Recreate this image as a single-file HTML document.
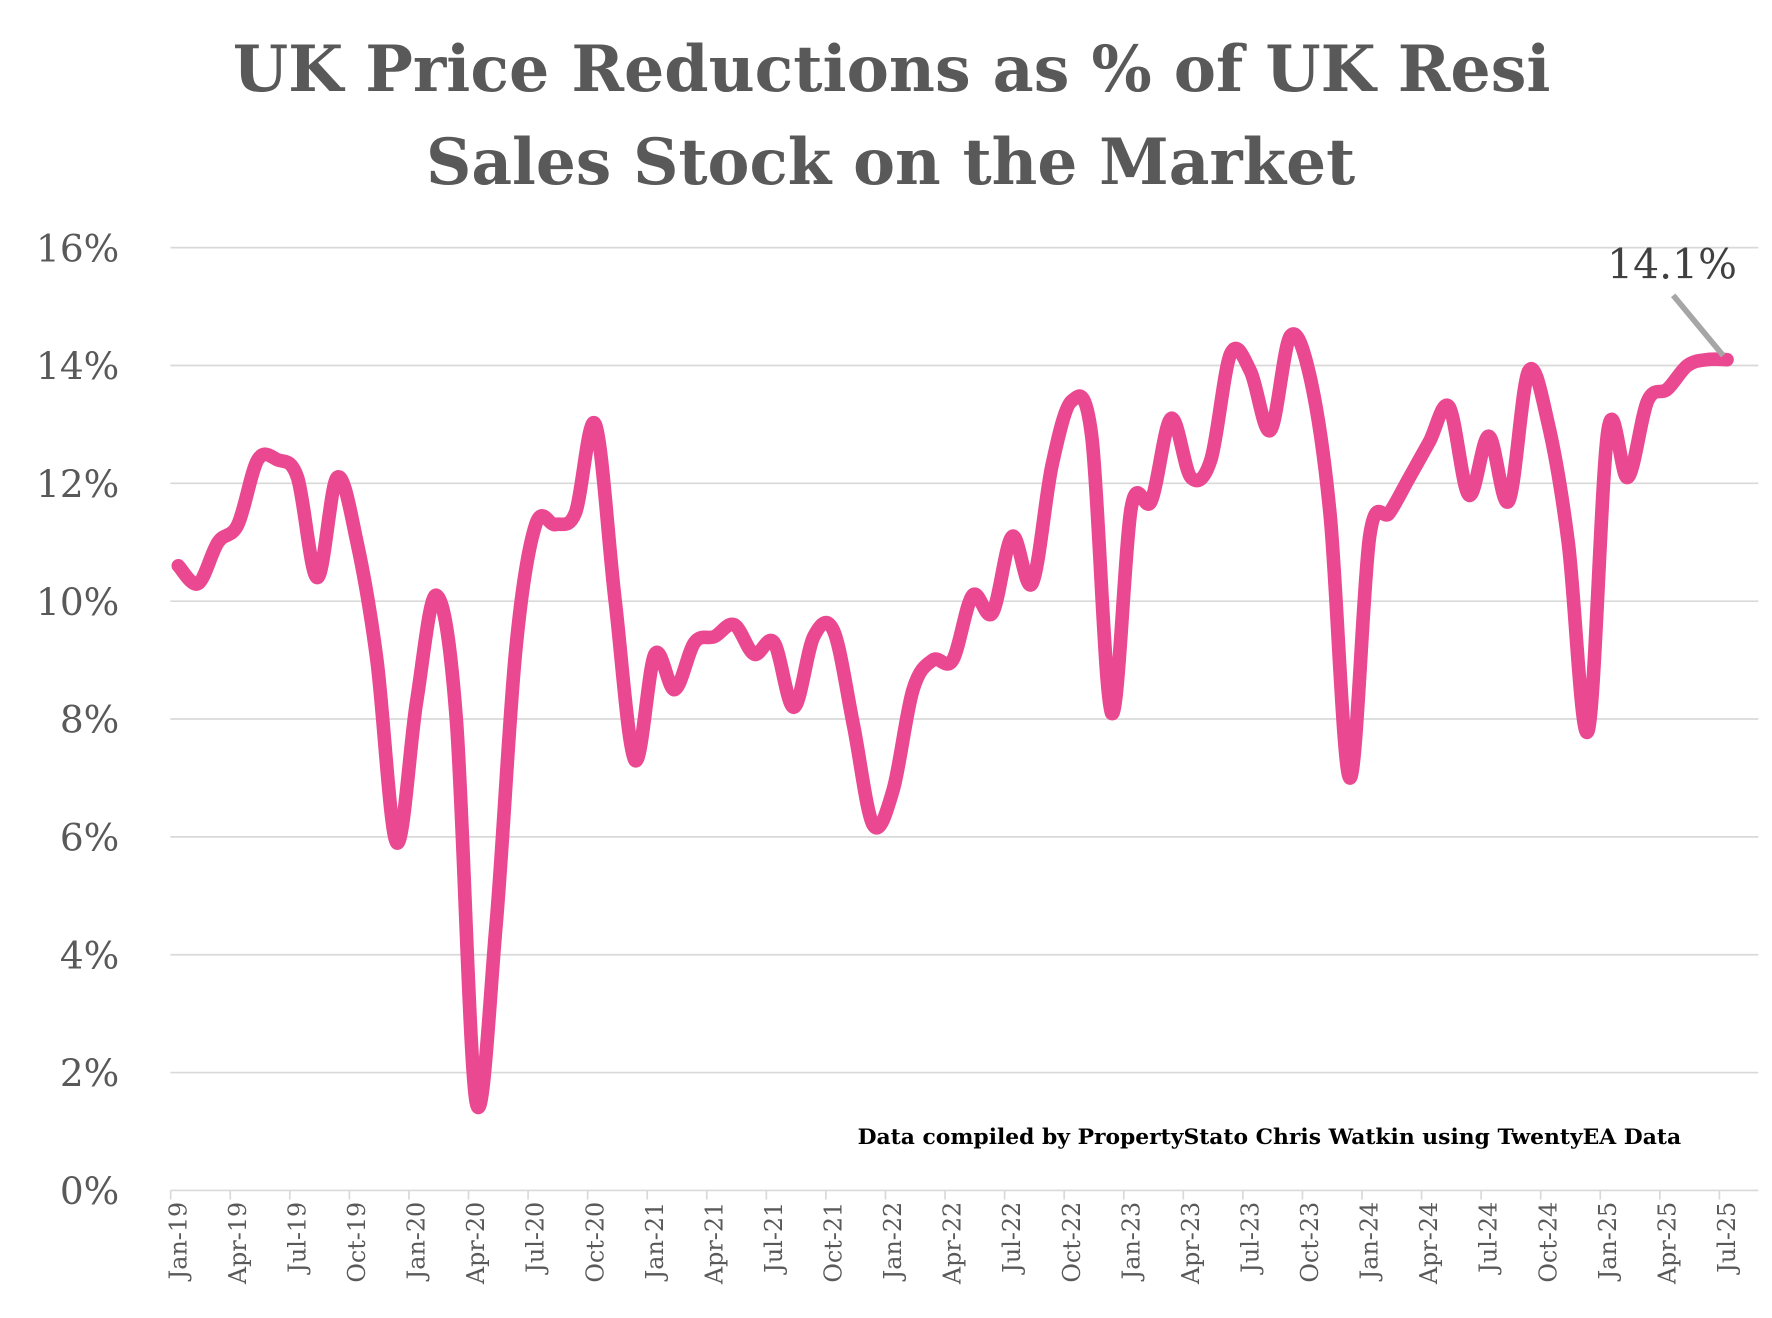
<!DOCTYPE html>
<html><head><meta charset="utf-8"><style>
html,body{margin:0;padding:0;background:#fff;}
svg{display:block;}
</style></head><body>
<svg id="c" width="1772" height="1318" viewBox="0 0 1560 1160.3" xmlns="http://www.w3.org/2000/svg">
<rect width="1560" height="1160.3" fill="#fff"/>
<g font-family="'DejaVu Serif','Liberation Serif',serif" fill="#595959" font-weight="bold" font-size="56">
<text x="205" y="80" textLength="1160" lengthAdjust="spacingAndGlyphs">UK Price Reductions as % of UK Resi</text>
<text x="375" y="162" textLength="818" lengthAdjust="spacingAndGlyphs">Sales Stock on the Market</text>
</g>
<g id="grid" stroke="#d9d9d9" stroke-width="1.5"></g>
<g id="ylab" font-family="'DejaVu Serif','Liberation Serif',serif" fill="#595959" font-size="33" text-anchor="end"></g>
<g id="xt" stroke="#d9d9d9" stroke-width="1.5"></g>
<g id="xlab" font-family="'DejaVu Serif','Liberation Serif',serif" fill="#595959" font-size="21"></g>
<path id="ln" fill="none" stroke="#ea4891" stroke-width="12" stroke-linejoin="round" stroke-linecap="round"/>
<line x1="1473" y1="260" x2="1517" y2="313" stroke="#a6a6a6" stroke-width="5"/>
<text x="1472" y="245" font-family="'DejaVu Serif','Liberation Serif',serif" font-size="36" fill="#404040" text-anchor="middle">14.1%</text>
<text x="755" y="1007" font-family="'DejaVu Serif','Liberation Serif',serif" font-size="19" font-weight="bold" fill="#000" textLength="725" lengthAdjust="spacingAndGlyphs">Data compiled by PropertyStato Chris Watkin using TwentyEA Data</text>
<line x1="0" y1="1163" x2="1560" y2="1163" stroke="#d9d9d9" stroke-width="2"/>
</svg>
<script>
var NS="http://www.w3.org/2000/svg";
function el(p,t,a,txt){var e=document.createElementNS(NS,t);for(var k in a)e.setAttribute(k,a[k]);if(txt)e.textContent=txt;document.getElementById(p).appendChild(e);return e;}
var y0=1048,st=51.875;
for(var v=0;v<=16;v+=2){var y=y0-v*st;
 if(v>0)el("grid","line",{x1:150,x2:1548,y1:y,y2:y});
 el("ylab","text",{x:105,y:y+12},v+"%");}
el("xt","line",{x1:150,x2:1548,y1:1048,y2:1048});
var x0=157,dx=17.48;
var mn=["Jan","Apr","Jul","Oct"];
for(var i=0;i<=78;i+=3){var bx=x0+i*dx-dx/2+2;
 el("xt","line",{x1:bx,x2:bx,y1:1048,y2:1056});
 var lx=x0+i*dx+7;
 var yr=19+Math.floor(i/12);
 el("xlab","text",{x:0,y:0,"text-anchor":"end",transform:"translate("+lx+",1058) rotate(-90)"},mn[(i%12)/3]+"-"+yr);}
var d=[10.6,10.3,11.0,11.3,12.4,12.4,12.1,10.4,12.1,11.0,9.0,5.9,8.3,10.1,8.0,1.5,4.5,9.2,11.3,11.3,11.5,13.0,10.0,7.3,9.1,8.5,9.3,9.4,9.6,9.1,9.3,8.2,9.4,9.5,7.9,6.2,6.8,8.5,9.0,9.0,10.1,9.8,11.1,10.3,12.3,13.4,12.8,8.1,11.6,11.7,13.1,12.1,12.4,14.2,13.9,12.9,14.5,13.8,11.5,7.0,11.1,11.5,12.1,12.7,13.3,11.8,12.8,11.7,13.9,13.0,11.0,7.8,12.9,12.1,13.4,13.6,14.0,14.1,14.1];
var P=d.map(function(v,i){return [x0+i*dx,y0-v*st];});
var s="M"+P[0][0]+","+P[0][1];
for(var i=0;i<P.length-1;i++){var p0=P[Math.max(0,i-1)],p1=P[i],p2=P[i+1],p3=P[Math.min(P.length-1,i+2)];
 var c1=[p1[0]+(p2[0]-p0[0])/6,p1[1]+(p2[1]-p0[1])/6],c2=[p2[0]-(p3[0]-p1[0])/6,p2[1]-(p3[1]-p1[1])/6];
 s+=" C"+c1[0].toFixed(1)+","+c1[1].toFixed(1)+" "+c2[0].toFixed(1)+","+c2[1].toFixed(1)+" "+p2[0].toFixed(1)+","+p2[1].toFixed(1);}
document.getElementById("ln").setAttribute("d",s);
</script>
</body></html>
